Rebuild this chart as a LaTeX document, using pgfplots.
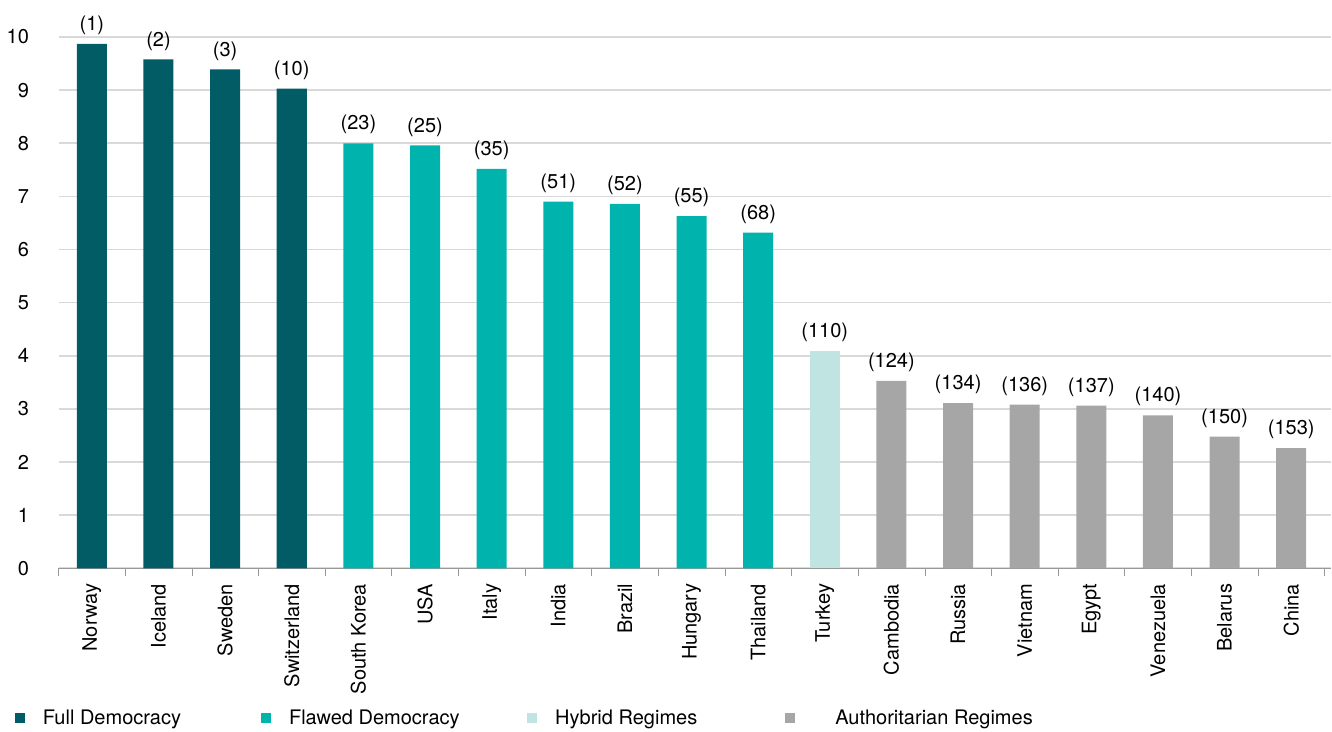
\documentclass[border=0pt]{standalone}
\usepackage{pgfplots}
\pgfplotsset{compat=1.18}
\usepackage{pgfplotstable}
\usepackage{fontspec}
\setmainfont{TeX Gyre Heros}

\definecolor{fulldem}{RGB}{2,92,102}
\definecolor{flawdem}{RGB}{0,179,172}
\definecolor{hybrid}{RGB}{191,228,225}
\definecolor{author}{RGB}{166,166,166}
\definecolor{gridgray}{RGB}{217,217,217}

% x = category index, y = score, r = rank
\pgfplotstableread{
x y r
0 9.87 1
1 9.58 2
2 9.39 3
3 9.03 10
}\fulldata
\pgfplotstableread{
x y r
4 8.00 23
5 7.96 25
6 7.52 35
7 6.90 51
8 6.86 52
9 6.63 55
10 6.32 68
}\flawdata
\pgfplotstableread{
x y r
11 4.09 110
}\hybriddata
\pgfplotstableread{
x y r
12 3.53 124
13 3.11 134
14 3.08 136
15 3.06 137
16 2.88 140
17 2.48 150
18 2.26 153
}\authdata

\begin{document}
\begin{tikzpicture}[font=\fontsize{10}{12}\selectfont]
\begin{axis}[
    ybar, bar width=15pt, bar shift=0pt,
    scale only axis, width=636pt, height=265.5pt,
    xmin=-0.5, xmax=18.6, ymin=0, ymax=10,
    clip=false,
    axis x line*=bottom, axis y line*=left,
    x axis line style={-, draw=gray!80},
    y axis line style={draw=none},
    ytick={0,...,10},
    ymajorgrids, grid style={gridgray, line width=0.8pt},
    y tick style={draw=none},
    yticklabel style={xshift=-7pt},
    /pgf/number format/assume math mode=true,
    xtick={0,...,18},
    xticklabels={Norway,Iceland,Sweden,Switzerland,South Korea,USA,Italy,India,Brazil,Hungary,Thailand,Turkey,Cambodia,Russia,Vietnam,Egypt,Venezuela,Belarus,China},
    major x tick style={draw=none},
    minor xtick={-0.5,0.5,...,18.5},
    minor x tick style={draw=gray!80},
    tick align=outside, minor tick length=4pt,
    x tick label style={rotate=90, anchor=east},
    ticklabel style={font=\fontsize{10}{12}\selectfont},
    nodes near coords={(\pgfplotspointmeta)},
    point meta=explicit symbolic,
    every node near coord/.append style={font=\fontsize{10}{12}\selectfont, black, yshift=1pt},
    legend columns=4,
    legend style={draw=none, fill=none, inner sep=0pt,
        at={(axis description cs:0,0)}, anchor=west,
        xshift=-22pt, yshift=-75pt,
        /tikz/every odd column/.append style={column sep=7pt},
        /tikz/every even column/.append style={column sep=0pt},
        font=\fontsize{10}{12}\selectfont},
    legend image code/.code={\fill[#1] (0pt,-2.5pt) rectangle (5pt,2.5pt);},
]
\addplot[fill=fulldem, draw=none] table[x=x, y=y, meta=r]{\fulldata};
\addplot[fill=flawdem, draw=none] table[x=x, y=y, meta=r]{\flawdata};
\addplot[fill=hybrid, draw=none] table[x=x, y=y, meta=r]{\hybriddata};
\addplot[fill=author, draw=none] table[x=x, y=y, meta=r]{\authdata};
\legend{\makebox[107pt][l]{Full Democracy},\makebox[117pt][l]{Flawed Democracy},\makebox[113pt][l]{Hybrid Regimes},\makebox[108pt][l]{\hspace{11pt}Authoritarian Regimes}}
% top margin of the picture
\path (rel axis cs:0,1) -- ++(0pt,18.5pt);
\end{axis}
\end{tikzpicture}
\end{document}
